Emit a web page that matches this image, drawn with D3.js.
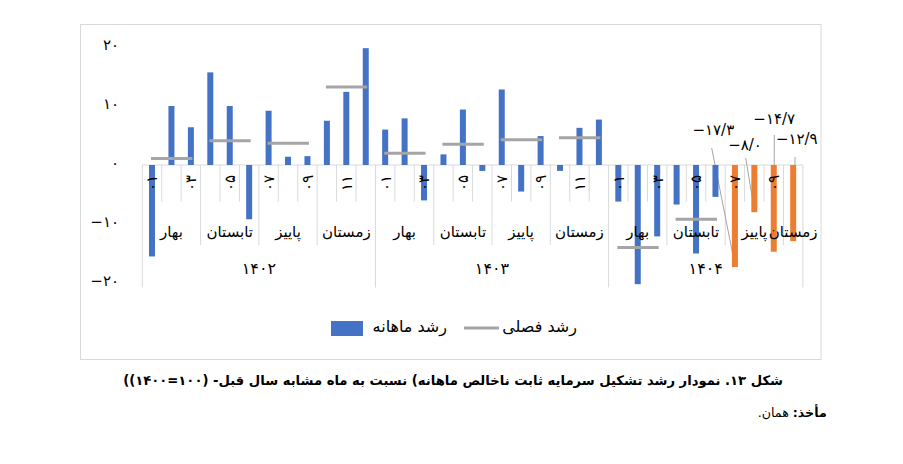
<!DOCTYPE html>
<html>
<head>
<meta charset="utf-8">
<script src="https://cdn.jsdelivr.net/npm/d3@7"></script>
<style>
  body { margin: 0; background: #fff; }
  #wrap { position: relative; width: 903px; height: 464px; overflow: hidden; }
  svg { position: absolute; left: 0; top: 0; }
  svg text { font-family: "DejaVu Sans", sans-serif; fill: #000; }
  .caption, .source {
    position: absolute; direction: rtl; white-space: nowrap;
    font-family: "DejaVu Sans", sans-serif; color: #000;
  }
  .caption { font-weight: bold; font-size: 16px; line-height: 20px; }
  .source { font-size: 13px; line-height: 18px; }
</style>
</head>
<body>
<div id="wrap">
  <svg id="chart" width="903" height="464"></svg>
  <div class="caption" id="caption">شکل ۱۳. نمودار رشد تشکیل سرمایه ثابت ناخالص ماهانه) نسبت به ماه مشابه سال قبل- (۱۰۰=۱۴۰۰))</div>
  <div class="source" id="source"><b>مأخذ:</b> همان.</div>
</div>
<script>
// ---- data ----
const years = ["۱۴۰۲", "۱۴۰۳", "۱۴۰۴"];
const seasons = ["بهار", "تابستان", "پاییز", "زمستان"];
const monthCodes = ["۰۱", "۰۲", "۰۳", "۰۴", "۰۵", "۰۶", "۰۷", "۰۸", "۰۹", "۱۰", "۱۱", "۱۲"];

const monthly1402 = [-15.5, 10.0, 6.4, 15.7, 10.0, -9.2, 9.2, 1.4, 1.5, 7.5, 12.4, 19.8];
const monthly1403 = [6.0, 7.9, -6.0, 1.8, 9.4, -1.0, 12.8, -4.5, 4.9, -1.0, 6.3, 7.7];
const monthly1404 = [-6.2, -20.2, -12.1, -6.7, -15.0, -5.4];
const estimate1404 = [-17.3, -8.0, -14.7, -12.9]; // months 07..10 (orange)

const seasonal1402 = [1.1, 4.1, 3.7, 13.2];
const seasonal1403 = [2.0, 3.5, 4.3, 4.6];
const seasonal1404 = [-14.0, -9.2];

const yTicks = [-20, -10, 0, 10, 20];

const legendMonthly = "رشد ماهانه";
const legendSeasonal = "رشد فصلی";

// ---- build flat category list ----
const monthlyByYear = [monthly1402, monthly1403, monthly1404.concat(estimate1404)];
const seasonalByYear = [seasonal1402, seasonal1403, seasonal1404];
const cats = [];
monthlyByYear.forEach((vals, yi) => {
  vals.forEach((v, mi) => {
    cats.push({
      year: yi, month: mi, season: Math.floor(mi / 3), value: v,
      estimate: yi === 2 && mi >= monthly1404.length
    });
  });
});

const faDigits = "۰۱۲۳۴۵۶۷۸۹";
const toFa = s => String(s).replace(/[0-9]/g, d => faDigits[+d]);
const fmtTick = v => (v < 0 ? "−" : "") + toFa(Math.abs(v));
const fmtVal = v => "−" + toFa(Math.abs(v).toFixed(1)).replace(".", "/");

// ---- layout ----
const svg = d3.select("#chart");
const plotLeft = 142.3, plotRight = 802.9;
const monthRowBottom = 201.7, seasonRowBottom = 245, yearRowBottom = 287.5;

const x = d3.scaleBand().domain(d3.range(cats.length)).range([plotLeft, plotRight]).paddingInner(0);
const y = d3.scaleLinear().domain([-20, 20]).range([283, 47]);
const cx = i => x(i) + x.bandwidth() / 2;
const barW = 6;

const blue = "#4472C4", orange = "#ED7D31", gray = "#A5A5A5", lineGray = "#D9D9D9";

// frame
svg.append("rect")
  .attr("x", 80.5).attr("y", 24.5).attr("width", 740.5).attr("height", 335)
  .attr("fill", "none").attr("stroke", lineGray).attr("stroke-width", 1);

// y axis labels
svg.append("g").selectAll("text").data(yTicks).join("text")
  .attr("x", 119).attr("y", d => y(d) + 2.5)
  .attr("text-anchor", "end").attr("font-size", 15)
  .text(fmtTick);

// category axis separators
const g = svg.append("g").attr("stroke", lineGray).attr("stroke-width", 1);
d3.range(cats.length + 1).forEach(i => {
  const xp = i < cats.length ? x(i) : plotRight;
  let bottom = monthRowBottom;
  const c = cats[i];
  if (i === 0 || i === cats.length || c.month === 0) bottom = yearRowBottom;
  else if (c.month % 3 === 0) bottom = seasonRowBottom;
  g.append("line").attr("x1", xp).attr("x2", xp).attr("y1", y(0)).attr("y2", bottom);
});
svg.append("line")
  .attr("x1", plotLeft).attr("x2", plotRight).attr("y1", y(0)).attr("y2", y(0))
  .attr("stroke", lineGray).attr("stroke-width", 1);

// estimate labels and leaders (placement relative to bar)
const estCats = cats.filter(d => d.estimate);
const estLayout = [
  { dx: -21.6, ty: 135, lx: -23.2, ly: 148 },
  { dx: -9.3, ty: 150, lx: -8.6, ly: 158 },
  { dx: 0.5, ty: 123.5, lx: 0.6, ly: 135 },
  { dx: 3.6, ty: 143.5, lx: 1.9, ly: 157 }
];
estCats.forEach((d, k) => {
  const i = cats.indexOf(d), L = estLayout[k];
  svg.append("line")
    .attr("x1", cx(i) + L.lx).attr("y1", L.ly)
    .attr("x2", cx(i)).attr("y2", y(d.value) - 2)
    .attr("stroke", gray).attr("stroke-width", 1);
  svg.append("text")
    .attr("x", cx(i) + L.dx).attr("y", L.ty)
    .attr("text-anchor", "middle").attr("font-size", 15)
    .text(fmtVal(d.value));
});

// bars
svg.append("g").selectAll("rect").data(cats).join("rect")
  .attr("x", (d, i) => cx(i) - barW / 2)
  .attr("width", barW)
  .attr("y", d => y(Math.max(0, d.value)))
  .attr("height", d => Math.abs(y(d.value) - y(0)))
  .attr("fill", d => d.estimate ? orange : blue);

// month labels (every other month, rotated)
const mg = svg.append("g");
cats.forEach((d, i) => {
  if (d.month % 2 !== 0) return;
  mg.append("text")
    .attr("transform", `translate(${cx(i)},183) rotate(-90)`)
    .attr("dy", "0.36em")
    .attr("text-anchor", "middle").attr("font-size", 15)
    .text(monthCodes[d.month]);
});

// season labels
const seasonGroups = d3.groups(cats.map((d, i) => ({ ...d, i })), d => d.year * 10 + d.season);
seasonGroups.forEach(([, arr]) => {
  const x0 = x(arr[0].i), x1 = x(arr[arr.length - 1].i) + x.bandwidth();
  svg.append("text")
    .attr("x", (x0 + x1) / 2).attr("y", 236.5)
    .attr("text-anchor", "middle").attr("font-size", 15)
    .text(seasons[arr[0].season]);
});

// year labels
d3.groups(cats.map((d, i) => ({ ...d, i })), d => d.year).forEach(([yi, arr]) => {
  const x0 = x(arr[0].i), x1 = x(arr[arr.length - 1].i) + x.bandwidth();
  svg.append("text")
    .attr("x", (x0 + x1) / 2).attr("y", 274)
    .attr("text-anchor", "middle").attr("font-size", 16)
    .text(years[yi]);
});

// seasonal growth segments
seasonalByYear.forEach((vals, yi) => {
  vals.forEach((v, si) => {
    const idx = cats.map((d, i) => i).filter(i => cats[i].year === yi && cats[i].season === si);
    svg.append("line")
      .attr("x1", cx(idx[0]) - 1).attr("x2", cx(idx[idx.length - 1]) + 1.5)
      .attr("y1", y(v)).attr("y2", y(v))
      .attr("stroke", gray).attr("stroke-width", 3);
  });
});

// legend
svg.append("rect").attr("x", 331).attr("y", 321).attr("width", 32).attr("height", 15).attr("fill", blue);
svg.append("text").attr("x", 447).attr("y", 332).attr("text-anchor", "end").attr("font-size", 16)
  .text(legendMonthly);
svg.append("line").attr("x1", 464).attr("x2", 499).attr("y1", 328).attr("y2", 328)
  .attr("stroke", gray).attr("stroke-width", 3);
svg.append("text").attr("x", 577).attr("y", 332).attr("text-anchor", "end").attr("font-size", 16)
  .text(legendSeasonal);

// fit caption + source to their measured widths in the picture
function fitBox(id, right, centerY, targetW, baseSize) {
  const el = document.getElementById(id);
  el.style.fontSize = baseSize + "px";
  const w = el.getBoundingClientRect().width;
  const size = baseSize * targetW / w;
  el.style.fontSize = size.toFixed(2) + "px";
  el.style.lineHeight = (size * 1.25).toFixed(2) + "px";
  el.style.right = (903 - right) + "px";
  el.style.top = (centerY - size * 0.625) + "px";
}
fitBox("caption", 783, 381, 660, 16);
fitBox("source", 826.7, 413, 69, 13);
</script>
</body>
</html>
